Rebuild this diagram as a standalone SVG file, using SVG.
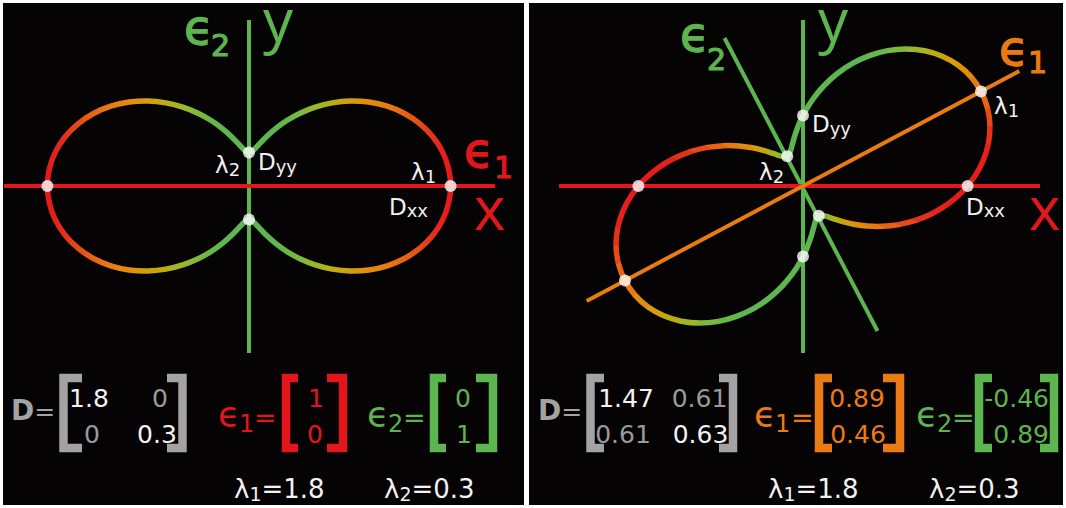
<svg xmlns="http://www.w3.org/2000/svg" width="1066" height="508" viewBox="0 0 1066 508">
<style>
text{font-family:'DejaVu Sans','Open Sans',sans-serif}
.ax{font-family:'Open Sans','DejaVu Sans',sans-serif;font-size:60px}
.eb{font-size:48px;stroke-width:1.3;paint-order:stroke}
.sb{font-size:30px;stroke-width:1.2;paint-order:stroke}
.lab{fill:#f0f0f0;font-size:23px}
.sub{font-size:18px}
.num{font-size:25px;text-anchor:middle}
.end{font-size:25px;text-anchor:end}
.w{fill:#f2f2f2}
.gr{fill:#9a9a9a}
.ln{stroke-width:4;fill:none}
.dot{fill:#ffffff;fill-opacity:0.8}
.br{fill:none;stroke-width:8.5;stroke-linejoin:miter}
.red{fill:#e3161c}
.grn{fill:#5cb54f}
.org{fill:#ea7b13}
.sr{stroke:#e3161c}
.sg{stroke:#5cb54f}
.so{stroke:#ea7b13}
.crv{fill:none;stroke-width:5.5;stroke-linecap:round}
</style>
<defs>
<linearGradient id="grad" gradientUnits="userSpaceOnUse" x1="0" y1="0" x2="201.6" y2="0" spreadMethod="reflect">
<stop offset="0" stop-color="#5fb54f"/>
<stop offset="0.13" stop-color="#5fb54f"/>
<stop offset="0.19" stop-color="#68b74a"/>
<stop offset="0.25" stop-color="#7db83e"/>
<stop offset="0.33" stop-color="#9cb82a"/>
<stop offset="0.41" stop-color="#b8ae14"/>
<stop offset="0.50" stop-color="#d49e0c"/>
<stop offset="0.60" stop-color="#e38c0e"/>
<stop offset="0.69" stop-color="#e97a12"/>
<stop offset="0.77" stop-color="#e86414"/>
<stop offset="0.85" stop-color="#e64a17"/>
<stop offset="0.91" stop-color="#e4321a"/>
<stop offset="0.96" stop-color="#e3221b"/>
<stop offset="1" stop-color="#e21a1c"/>
</linearGradient>
<path id="qp" fill="none" d="M201.6,0 C201.6,-5.82 200.9,-11.77 199.56,-17.46 C198.22,-23.15 196.17,-28.83 193.55,-34.13 C190.93,-39.43 187.62,-44.59 183.86,-49.27 C180.1,-53.95 175.69,-58.36 170.97,-62.23 C166.25,-66.11 160.98,-69.59 155.52,-72.52 C150.06,-75.45 144.16,-77.9 138.22,-79.8 C132.28,-81.7 126.03,-83.07 119.87,-83.93 C113.71,-84.79 107.38,-85.1 101.26,-84.97 C95.14,-84.84 89,-84.17 83.16,-83.16 C77.32,-82.15 71.59,-80.64 66.22,-78.91 C60.86,-77.18 55.71,-75.04 50.97,-72.8 C46.23,-70.56 41.82,-67.99 37.8,-65.47 C33.79,-62.95 30.15,-60.22 26.88,-57.65 C23.62,-55.08 20.76,-52.43 18.21,-50.04 C15.67,-47.65 13.53,-45.31 11.61,-43.32 C9.69,-41.33 8.14,-39.51 6.71,-38.08 C5.28,-36.65 4.16,-35.5 3.04,-34.75 C1.92,-34 1.01,-33.6 0,-33.6"/>
<g id="pea">
<use href="#qp"/>
<use href="#qp" transform="scale(-1,1)"/>
<use href="#qp" transform="scale(1,-1)"/>
<use href="#qp" transform="scale(-1,-1)"/>
</g>
<polygon id="wd" points="0,0 260,-12.5 260,12.5"/>
<g id="fan">
<use href="#wd" transform="rotate(0)" fill="#e21a1c"/>
<use href="#wd" transform="rotate(5)" fill="#e31e1b"/>
<use href="#wd" transform="rotate(10)" fill="#e3221b"/>
<use href="#wd" transform="rotate(15)" fill="#e4321a"/>
<use href="#wd" transform="rotate(20)" fill="#e64a17"/>
<use href="#wd" transform="rotate(25)" fill="#e86414"/>
<use href="#wd" transform="rotate(30)" fill="#e97a12"/>
<use href="#wd" transform="rotate(35)" fill="#e38c0e"/>
<use href="#wd" transform="rotate(40)" fill="#d49e0c"/>
<use href="#wd" transform="rotate(45)" fill="#b8ae14"/>
<use href="#wd" transform="rotate(50)" fill="#9cb82a"/>
<use href="#wd" transform="rotate(55)" fill="#7db83e"/>
<use href="#wd" transform="rotate(60)" fill="#68b74a"/>
<use href="#wd" transform="rotate(65)" fill="#5fb54f"/>
<use href="#wd" transform="rotate(70)" fill="#5fb54f"/>
<use href="#wd" transform="rotate(75)" fill="#5fb54f"/>
<use href="#wd" transform="rotate(80)" fill="#5fb54f"/>
<use href="#wd" transform="rotate(85)" fill="#5fb54f"/>
<use href="#wd" transform="rotate(90)" fill="#5fb54f"/>
<use href="#wd" transform="rotate(95)" fill="#5fb54f"/>
<use href="#wd" transform="rotate(100)" fill="#5fb54f"/>
<use href="#wd" transform="rotate(105)" fill="#5fb54f"/>
<use href="#wd" transform="rotate(110)" fill="#5fb54f"/>
<use href="#wd" transform="rotate(115)" fill="#5fb54f"/>
<use href="#wd" transform="rotate(120)" fill="#68b74a"/>
<use href="#wd" transform="rotate(125)" fill="#7db83e"/>
<use href="#wd" transform="rotate(130)" fill="#9cb82a"/>
<use href="#wd" transform="rotate(135)" fill="#b8ae14"/>
<use href="#wd" transform="rotate(140)" fill="#d49e0c"/>
<use href="#wd" transform="rotate(145)" fill="#e38c0e"/>
<use href="#wd" transform="rotate(150)" fill="#e97a12"/>
<use href="#wd" transform="rotate(155)" fill="#e86414"/>
<use href="#wd" transform="rotate(160)" fill="#e64a17"/>
<use href="#wd" transform="rotate(165)" fill="#e4321a"/>
<use href="#wd" transform="rotate(170)" fill="#e3221b"/>
<use href="#wd" transform="rotate(175)" fill="#e31e1b"/>
</g>
<mask id="mR" maskUnits="userSpaceOnUse" x="529" y="3" width="534" height="502">
<g class="crv" stroke="#ffffff"><use href="#pea" transform="translate(803,186) rotate(-28)"/></g>
</mask>
</defs>

<rect width="1066" height="508" fill="#ffffff"/>
<rect id="panel-left" x="3" y="3" width="521" height="502" fill="#050303"/>
<rect id="panel-right" x="529" y="3" width="534" height="502" fill="#050303"/>

<g id="connectors">
<line class="ln" x1="249" y1="20" x2="249" y2="353" stroke="#5cb54f"/>
<line class="ln" x1="4" y1="186" x2="495" y2="186" stroke="#e3161c"/>
<line class="ln" x1="803" y1="20" x2="803" y2="353" stroke="#5cb54f"/>
<line class="ln" x1="724.5" y1="38" x2="877.5" y2="331" stroke="#5cb54f"/>
<line class="ln" x1="559" y1="186" x2="1040" y2="186" stroke="#e3161c"/>
<line class="ln" x1="586.7" y1="301" x2="1019.3" y2="71" stroke="#ea7b13"/>
</g>

<g id="curve-left" class="crv" stroke="url(#grad)"><use href="#pea" transform="translate(249,186)"/></g>
<g id="curve-right" mask="url(#mR)">
<g transform="translate(803,186)"><use href="#fan"/><use href="#fan" transform="rotate(180)"/></g>
</g>

<g id="dots-left">
<circle class="dot" cx="47.4" cy="186" r="6"/>
<circle class="dot" cx="450.6" cy="186" r="6"/>
<circle class="dot" cx="249" cy="152.4" r="6"/>
<circle class="dot" cx="249" cy="219.6" r="6"/>
</g>
<g id="dots-right">
<circle class="dot" cx="981" cy="91.4" r="6"/>
<circle class="dot" cx="625" cy="280.6" r="6"/>
<circle class="dot" cx="787.2" cy="156.3" r="6"/>
<circle class="dot" cx="818.8" cy="215.7" r="6"/>
<circle class="dot" cx="967.6" cy="186" r="6"/>
<circle class="dot" cx="638.4" cy="186" r="6"/>
<circle class="dot" cx="803" cy="115.4" r="6"/>
<circle class="dot" cx="803" cy="256.6" r="6"/>
</g>

<g id="labels-left">
<text class="eb grn sg" x="184" y="44">ϵ</text><text class="sb grn sg" x="211" y="56">2</text>
<text class="ax grn" x="263" y="42" font-size="58">y</text>
<text class="eb red sr" x="464" y="167">ϵ</text><text class="sb red sr" x="494" y="178">1</text>
<text class="ax red" x="474" y="230">x</text>
<text class="lab" x="215" y="173">λ<tspan class="sub" dy="3">2</tspan></text>
<text class="lab" x="258" y="170">D<tspan class="sub" dy="3">yy</tspan></text>
<text class="lab" x="411" y="180">λ<tspan class="sub" dy="3">1</tspan></text>
<text class="lab" x="389" y="215">D<tspan class="sub" dy="2">xx</tspan></text>
</g>

<g id="labels-right">
<text class="eb grn sg" x="680" y="51">ϵ</text><text class="sb grn sg" x="707" y="70">2</text>
<text class="ax grn" x="818" y="42" font-size="58">y</text>
<text class="eb org so" x="999" y="65">ϵ</text><text class="sb org so" x="1028" y="73">1</text>
<text class="ax red" x="1029" y="230">x</text>
<text class="lab" x="759" y="180">λ<tspan class="sub" dy="3">2</tspan></text>
<text class="lab" x="812" y="132">D<tspan class="sub" dy="3">yy</tspan></text>
<text class="lab" x="994" y="114">λ<tspan class="sub" dy="3">1</tspan></text>
<text class="lab" x="966" y="215">D<tspan class="sub" dy="2">xx</tspan></text>
</g>

<g id="matrix-left">
<text x="11" y="420" font-size="28" fill="#a3a3a3"><tspan font-weight="bold">D</tspan><tspan font-size="25">=</tspan></text>
<path class="br" stroke="#a3a3a3" d="M82,378H63.5V448H82"/>
<path class="br" stroke="#a3a3a3" d="M167,378H182.5V448H167"/>
<text class="num w" x="89" y="407">1.8</text>
<text class="num gr" x="160" y="407">0</text>
<text class="num gr" x="92" y="443">0</text>
<text class="num w" x="157" y="443">0.3</text>
</g>
<g id="vector-e1-left">
<text class="red"><tspan x="218" y="427" font-size="36">ϵ</tspan><tspan x="239" y="432" font-size="24">1</tspan><tspan x="254" y="427" font-size="27">=</tspan></text>
<path class="br" stroke="#e3161c" d="M298,378H286V448H298"/>
<path class="br" stroke="#e3161c" d="M327,378H343V448H327"/>
<text class="num red" x="316" y="407">1</text>
<text class="num red" x="315" y="443">0</text>
</g>
<g id="vector-e2-left">
<text class="grn"><tspan x="367" y="427" font-size="36">ϵ</tspan><tspan x="388" y="432" font-size="24">2</tspan><tspan x="403" y="427" font-size="27">=</tspan></text>
<path class="br" stroke="#5cb54f" d="M446,378H434V448H446"/>
<path class="br" stroke="#5cb54f" d="M476,378H493V448H476"/>
<text class="num grn" x="463" y="407">0</text>
<text class="num grn" x="464" y="443">1</text>
</g>
<g id="eigen-left">
<text x="234" y="498" font-size="26" class="w">λ<tspan font-size="19" dy="3">1</tspan><tspan dy="-3">=1.8</tspan></text>
<text x="384" y="498" font-size="26" class="w">λ<tspan font-size="19" dy="3">2</tspan><tspan dy="-3">=0.3</tspan></text>
</g>

<g id="matrix-right">
<text x="538" y="420" font-size="28" fill="#a3a3a3"><tspan font-weight="bold">D</tspan><tspan font-size="25">=</tspan></text>
<path class="br" stroke="#a3a3a3" d="M604,378H590.5V448H604"/>
<path class="br" stroke="#a3a3a3" d="M719,378H733V448H719"/>
<text class="num w" x="626" y="407">1.47</text>
<text class="num gr" x="699.5" y="407">0.61</text>
<text class="num gr" x="623" y="443">0.61</text>
<text class="num w" x="700.5" y="443">0.63</text>
</g>
<g id="vector-e1-right">
<text class="org"><tspan x="754" y="427" font-size="36">ϵ</tspan><tspan x="775" y="432" font-size="24">1</tspan><tspan x="791" y="427" font-size="27">=</tspan></text>
<path class="br" stroke="#ea7b13" d="M832,378H819V448H832"/>
<path class="br" stroke="#ea7b13" d="M883,378H900V448H883"/>
<text class="num org" x="857" y="407">0.89</text>
<text class="num org" x="858" y="443">0.46</text>
</g>
<g id="vector-e2-right">
<text class="grn"><tspan x="916" y="427" font-size="36">ϵ</tspan><tspan x="937" y="432" font-size="24">2</tspan><tspan x="952" y="427" font-size="27">=</tspan></text>
<path class="br" stroke="#5cb54f" d="M992,378H979V448H992"/>
<path class="br" stroke="#5cb54f" d="M1040,378H1054V448H1040"/>
<text class="end grn" x="1049" y="407">-0.46</text>
<text class="end grn" x="1049" y="443">0.89</text>
</g>
<g id="eigen-right">
<text x="768" y="498" font-size="26" class="w">λ<tspan font-size="19" dy="3">1</tspan><tspan dy="-3">=1.8</tspan></text>
<text x="929" y="498" font-size="26" class="w">λ<tspan font-size="19" dy="3">2</tspan><tspan dy="-3">=0.3</tspan></text>
</g>
</svg>
